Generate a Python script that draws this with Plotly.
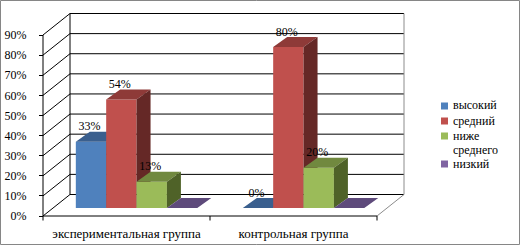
import plotly.graph_objects as go

# ---------------- data ----------------
categories = ["экспериментальная группа", "контрольная группа"]
series_names = ["высокий", "средний", "ниже<br>среднего", "низкий"]
vysokiy = [33, 0]
sredniy = [54, 80]
nizhe_srednego = [13, 20]
nizkiy = [0, 0]
series_values = [vysokiy, sredniy, nizhe_srednego, nizkiy]
show_labels = [True, True, True, False]
y_ticks = [0, 10, 20, 30, 40, 50, 60, 70, 80, 90]
y_tick_text = [f"{v}%" for v in y_ticks]

# ---------------- style ----------------
front_cols = ["#4F81BD", "#C0504D", "#9BBB59", "#8064A2"]
top_cols = ["#3A5F8E", "#8E3A38", "#71893F", "#5E4A7B"]
side_cols = ["#2C4A70", "#652826", "#4F6228", "#403152"]
FONT = "Liberation Serif"

W, H = 520, 246
ML, MR, MT, MB = 20, 0, 2, 4
PW, PH = W - ML - MR, H - MT - MB
AX_X, AX_Y = 43, 216          # pixel position of front-left-bottom corner
PX = 167.0                    # pixels per category unit
PY = 181.0 / 90               # pixels per percent
DEP_DX, DEP_DY = 27 / PX, 21.5 / PY          # full depth offset
BAR_D0 = 8 / 21.5                            # bar front plane (fraction of depth)
BAR_DX, BAR_DY = 14 / PX, 10 / PY            # bar depth
NS = len(series_values)
BW = 1.0 / (NS + 1.5)
GAP = 0.75 * BW
NC = len(categories)

x_rng = [-(AX_X - ML) / PX, (W - MR - AX_X) / PX]
y_rng = [-(H - MB - AX_Y) / PY, (AX_Y - MT) / PY]

def px2paper_x(p):
    return (p - ML) / PW

def px2paper_y(p):
    return (H - MB - p) / PH

fig = go.Figure()

def add_line(xs, ys, color="black", width=1):
    fig.add_trace(go.Scatter(x=xs, y=ys, mode="lines", line=dict(color=color, width=width),
                             hoverinfo="skip", showlegend=False))

# back wall horizontal grid lines + side wall diagonals
gx, gy = [], []
dx, dy = [], []
for v in y_ticks:
    gx += [DEP_DX, NC + DEP_DX, None]
    gy += [v + DEP_DY, v + DEP_DY, None]
    dx += [0, DEP_DX, None]
    dy += [v, v + DEP_DY, None]
add_line(gx, gy)
add_line(dx, dy)
add_line([DEP_DX, DEP_DX], [DEP_DY, y_ticks[-1] + DEP_DY])
add_line([NC + DEP_DX, NC + DEP_DX], [DEP_DY, y_ticks[-1] + DEP_DY], color="#8C8C8C")
add_line([NC, NC + DEP_DX], [0, DEP_DY], color="#8C8C8C")
# front axes
add_line([0, 0], [0, y_ticks[-1]])
add_line([0, NC], [0, 0])
tx, ty = [], []
for i in range(NC + 1):
    tx += [i, i, None]
    ty += [0, -4.5 / PY, None]
add_line(tx, ty)

# bars
y0 = BAR_D0 * DEP_DY
for j, vals in enumerate(series_values):
    fx, fy, tpx, tpy, sx, sy = [], [], [], [], [], []
    lx, ly, lt = [], [], []
    for i, v in enumerate(vals):
        xl = i + BAR_D0 * DEP_DX + GAP + j * BW
        xr = xl + BW
        y1 = y0 + v
        fx += [xl, xr, xr, xl, xl, None]
        fy += [y0, y0, y1, y1, y0, None]
        tpx += [xl, xr, xr + BAR_DX, xl + BAR_DX, xl, None]
        tpy += [y1, y1, y1 + BAR_DY, y1 + BAR_DY, y1, None]
        sx += [xr, xr + BAR_DX, xr + BAR_DX, xr, xr, None]
        sy += [y0, y0 + BAR_DY, y1 + BAR_DY, y1, y0, None]
        if show_labels[j]:
            lx.append((xl + xr) / 2 - 1.5 / PX)
            ly.append(y1 + 14.5 / PY)
            lt.append(f"{v}%")
    if lx:
        fig.add_trace(go.Scatter(x=lx, y=ly, text=lt, mode="text", textposition="middle center",
                                 textfont=dict(family=FONT, size=12, color="black"),
                                 hoverinfo="skip", showlegend=False, cliponaxis=False))
    for xs, ys, col in ((fx, fy, front_cols[j]), (tpx, tpy, top_cols[j]), (sx, sy, side_cols[j])):
        fig.add_trace(go.Scatter(x=xs, y=ys, mode="lines", fill="toself", fillcolor=col,
                                 line=dict(width=0, color=col), hoverinfo="skip",
                                 showlegend=False))

# legend (custom, Excel-like)
leg_sq_x = 441
leg_sq_y = [106, 121, 136, 164]
leg_text_y = [[105], [121], [136, 150], [164]]
for j, name in enumerate(series_names):
    cy = leg_sq_y[j]
    fig.add_shape(type="rect", xref="paper", yref="paper",
                  x0=px2paper_x(leg_sq_x), x1=px2paper_x(leg_sq_x + 7),
                  y0=px2paper_y(cy + 3.5), y1=px2paper_y(cy - 3.5),
                  fillcolor=front_cols[j], line=dict(width=0))
    for k, p in enumerate(name.split("<br>")):
        fig.add_annotation(xref="paper", yref="paper", x=px2paper_x(451), y=px2paper_y(leg_text_y[j][k]),
                           text=p, showarrow=False, xanchor="left", yanchor="middle",
                           font=dict(family=FONT, size=12, color="black"))

# outer border
fig.add_shape(type="rect", xref="paper", yref="paper",
              x0=px2paper_x(0.5), x1=px2paper_x(519.5), y0=px2paper_y(244.5), y1=px2paper_y(0.5),
              line=dict(color="#868686", width=1), fillcolor="rgba(0,0,0,0)")

fig.update_layout(
    template="none",
    width=W, height=H, margin=dict(l=ML, r=MR, t=MT, b=MB, autoexpand=False),
    paper_bgcolor="white", plot_bgcolor="white", showlegend=False,
    font=dict(family=FONT, size=12, color="black"),
    xaxis=dict(range=x_rng, showgrid=False, zeroline=False, showline=False, automargin=False,
               tickvals=[i + 0.5 for i in range(NC)], ticktext=categories, ticks="",
               anchor="free", position=px2paper_y(AX_Y), ticklabelstandoff=8,
               tickfont=dict(family=FONT, size=13, color="black"), fixedrange=True),
    yaxis=dict(range=y_rng, showgrid=False, zeroline=False, showline=False, automargin=False,
               tickvals=y_ticks, ticktext=y_tick_text, ticks="outside", ticklen=4,
               tickcolor="black", anchor="free", position=px2paper_x(AX_X),
               ticklabelstandoff=10,
               tickfont=dict(family=FONT, size=12, color="black"), fixedrange=True),
)

fig.write_html("out.html", config={"displayModeBar": False},
               post_script="document.body.style.margin='0px';document.body.style.padding='0px';")
